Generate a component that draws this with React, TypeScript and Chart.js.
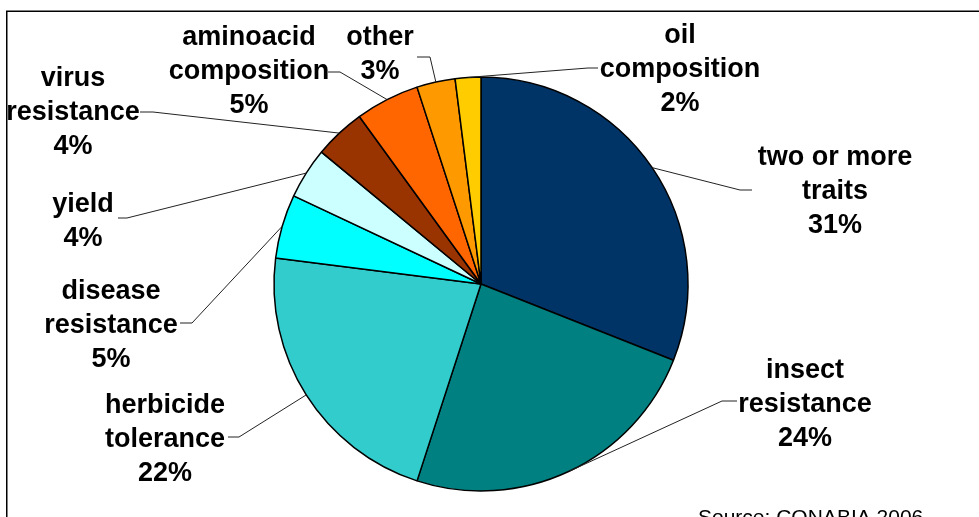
import React, { useEffect, useRef } from "react";
import { Chart, registerables } from "chart.js";

Chart.register(...registerables);

const categories: string[][] = [
  ["two or more", "traits"],
  ["insect", "resistance"],
  ["herbicide", "tolerance"],
  ["disease", "resistance"],
  ["yield"],
  ["virus", "resistance"],
  ["aminoacid", "composition"],
  ["other"],
  ["oil", "composition"],
];
const values: number[] = [31, 24, 22, 5, 4, 4, 5, 3, 2];
const colors: string[] = [
  "#003366",
  "#008080",
  "#33CCCC",
  "#00FFFF",
  "#CCFFFF",
  "#993300",
  "#FF6600",
  "#FF9900",
  "#FFCC00",
];
const sourceText = "Source: CONABIA 2006";

// label layout: text centre x, first baseline y, leader stub start x, elbow x, elbow y
const labelLayout = [
  { tx: 835, ty: 165, sx: 752, ex: 740, ey: 190 },
  { tx: 805, ty: 378, sx: 737, ex: 722, ey: 401 },
  { tx: 165, ty: 413, sx: 228, ex: 239, ey: 437 },
  { tx: 111, ty: 299, sx: 180, ex: 192, ey: 323 },
  { tx: 83, ty: 212, sx: 118, ex: 127, ey: 218 },
  { tx: 73, ty: 86, sx: 140, ex: 153, ey: 112 },
  { tx: 249, ty: 45, sx: 328, ex: 340, ey: 72 },
  { tx: 380, ty: 45, sx: 417, ex: 430, ey: 57 },
  { tx: 680, ty: 43, sx: 598, ex: 588, ey: 68 },
];

const LINE_H = 34;

const labelPlugin = {
  id: "pieLabels",
  afterDraw(chart: any) {
    const ctx: CanvasRenderingContext2D = chart.ctx;
    const meta = chart.getDatasetMeta(0);
    ctx.save();
    // frame
    ctx.strokeStyle = "#000";
    ctx.lineWidth = 1.5;
    ctx.strokeRect(6.75, 11.25, 1000, 600);

    // leaders
    ctx.strokeStyle = "#222";
    ctx.lineWidth = 1;
    meta.data.forEach((arc: any, i: number) => {
      const p = arc.getProps(["x", "y", "startAngle", "endAngle", "outerRadius"], true);
      const mid = (p.startAngle + p.endAngle) / 2;
      const px = p.x + Math.cos(mid) * p.outerRadius;
      const py = p.y + Math.sin(mid) * p.outerRadius;
      const L = labelLayout[i];
      ctx.beginPath();
      ctx.moveTo(L.sx, L.ey);
      ctx.lineTo(L.ex, L.ey);
      ctx.lineTo(px, py);
      ctx.stroke();
    });

    // texts
    ctx.fillStyle = "#000";
    ctx.font = 'bold 27px "Liberation Sans", Arial, sans-serif';
    ctx.textAlign = "center";
    ctx.textBaseline = "alphabetic";
    categories.forEach((lines, i) => {
      const L = labelLayout[i];
      const all = [...lines, `${values[i]}%`];
      all.forEach((t, j) => ctx.fillText(t, L.tx, L.ty + j * LINE_H));
    });

    // source
    ctx.font = '21px "Liberation Sans", Arial, sans-serif';
    ctx.textAlign = "left";
    ctx.fillText(sourceText, 698, 524);
    ctx.restore();
  },
};

export default function App() {
  const ref = useRef<HTMLCanvasElement>(null);
  useEffect(() => {
    if (!ref.current) return;
    const chart = new Chart(ref.current, {
      type: "pie",
      data: {
        labels: categories.map((c) => c.join(" ")),
        datasets: [
          {
            data: values,
            backgroundColor: colors,
            borderColor: "#000",
            borderWidth: 1.5,
          },
        ],
      },
      options: {
        responsive: false,
        animation: false,
        layout: {
          padding: { left: 273.25, right: 290.25, top: 76.25, bottom: 25.25 },
        },
        plugins: {
          legend: { display: false },
          tooltip: { enabled: false },
        },
      },
      plugins: [labelPlugin],
    });
    return () => chart.destroy();
  }, []);
  return (
    <div style={{ position: "absolute", left: 0, top: 0, width: 979, height: 517, background: "#fff" }}>
      <canvas ref={ref} width={979} height={517} style={{ display: "block" }} />
    </div>
  );
}
